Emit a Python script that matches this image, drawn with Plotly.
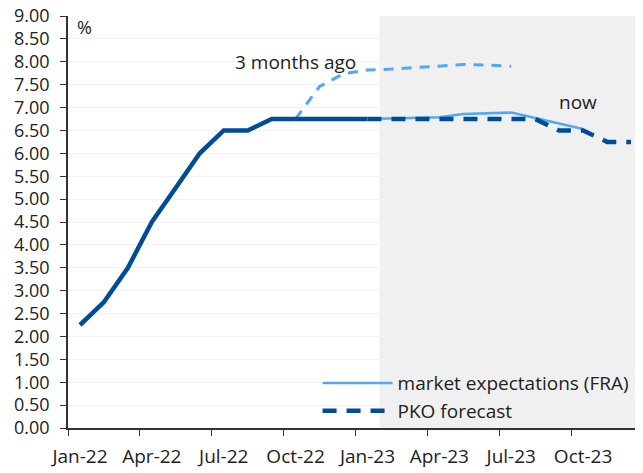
import plotly.graph_objects as go

months = ["Jan-22", "Feb-22", "Mar-22", "Apr-22", "May-22", "Jun-22",
          "Jul-22", "Aug-22", "Sep-22", "Oct-22", "Nov-22", "Dec-22",
          "Jan-23", "Feb-23", "Mar-23", "Apr-23", "May-23", "Jun-23",
          "Jul-23", "Aug-23", "Sep-23", "Oct-23", "Nov-23", "Dec-23"]

# reference rate, actual
actual_x = months[0:13]
actual = [2.25, 2.75, 3.50, 4.50, 5.25, 6.00, 6.50, 6.50, 6.75, 6.75, 6.75, 6.75, 6.75]

# PKO forecast
pko_x = months[12:24]
pko = [6.75, 6.75, 6.75, 6.75, 6.75, 6.75, 6.75, 6.75, 6.50, 6.50, 6.25, 6.25]

# market expectations (FRA) now
fra_x = months[12:22]
fra = [6.75, 6.76, 6.77, 6.79, 6.86, 6.88, 6.89, 6.77, 6.65, 6.53]

# market expectations 3 months ago
ago_x = months[9:19]
ago = [6.75, 7.46, 7.74, 7.82, 7.84, 7.87, 7.91, 7.94, 7.93, 7.90]

DARK = "#004C97"
LIGHT = "#52A8F5"
FONT = "Open Sans"

fig = go.Figure()
fig.add_trace(go.Scatter(x=ago_x, y=ago, mode="lines", showlegend=False,
                         line=dict(color=LIGHT, width=3, dash="10px,8px")))
fig.add_trace(go.Scatter(x=actual_x, y=actual, mode="lines", showlegend=False,
                         line=dict(color=DARK, width=4.5)))
fig.add_trace(go.Scatter(x=fra_x, y=fra, mode="lines", name="market expectations (FRA)",
                         line=dict(color=LIGHT, width=2.5)))
fig.add_trace(go.Scatter(x=pko_x, y=pko, mode="lines", name="PKO forecast",
                         line=dict(color=DARK, width=4.5, dash="14px,10px")))

# forecast period shading
fig.add_shape(type="rect", xref="x", yref="paper", x0=12.5, x1=23.5, y0=0, y1=1,
              fillcolor="#F0F0F0", line_width=0, layer="between")

fig.add_annotation(x=0.012, y=0.973, xref="paper", yref="paper", text="%",
                   showarrow=False, xanchor="left", yanchor="middle",
                   font=dict(size=18, color="#222"))
fig.add_annotation(x="Oct-22", y=8.0, text="3 months ago", showarrow=False,
                   font=dict(size=19, color="#222"))
fig.add_annotation(x="Oct-23", y=7.13, text="now", showarrow=False, xshift=-5,
                   font=dict(size=19, color="#222"))

# the page adds an 8px body margin, so the figure is 8px smaller
fig.update_layout(
    width=635, height=465,
    margin=dict(l=60, r=0, t=8, b=45, autoexpand=False),
    plot_bgcolor="white", paper_bgcolor="white",
    font=dict(family=FONT, size=18, color="#222"),
    legend=dict(x=0.434, y=0.155, xanchor="left", yanchor="top",
                bgcolor="rgba(0,0,0,0)", itemwidth=70,
                font=dict(size=19), tracegroupgap=0),
)
fig.update_xaxes(type="category", categoryorder="array", categoryarray=months,
                 range=[-0.5, 23.5], tickmode="linear", tick0=0, dtick=3,
                 tickson="boundaries", ticks="outside", ticklen=6, tickcolor="#333",
                 tickangle=0, automargin=False, ticklabelstandoff=10,
                 tickfont=dict(size=19), ticklabeloverflow="allow",
                 showline=True, linecolor="#333", linewidth=1.5,
                 showgrid=False, zeroline=False)
fig.update_yaxes(range=[0, 9], dtick=0.5, tickformat=".2f", automargin=False,
                 ticks="outside", ticklen=6, tickcolor="#333", ticklabelstandoff=7,
                 ticklabeloverflow="allow",
                 showline=True, linecolor="#333", linewidth=1.5,
                 showgrid=True, gridcolor="#F2F2F2", gridwidth=1, zeroline=False)

fig.write_html("out.html")
